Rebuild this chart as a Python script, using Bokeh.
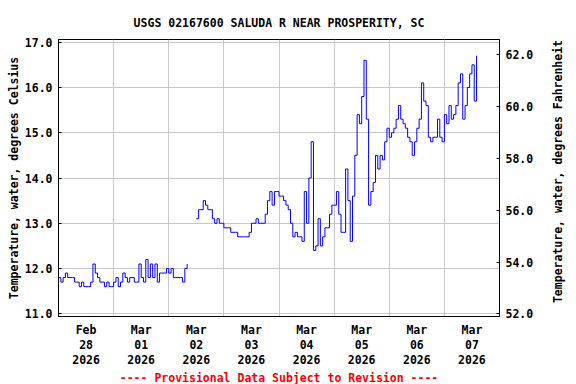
import math
import pandas as pd
from bokeh.plotting import figure
from bokeh.layouts import row
from bokeh.models import Range1d, LinearAxis, FixedTicker, Title, PrintfTickFormatter, Label
from bokeh.embed import file_html
from bokeh.resources import INLINE

TITLE = "USGS 02167600 SALUDA R NEAR PROSPERITY, SC"
LEFT_LABEL = "Temperature, water, degrees Celsius"
RIGHT_LABEL = "Temperature, water, degrees Fahrenheit"
FOOTER = "---- Provisional Data Subject to Revision ----"

origin = pd.Timestamp("2026-02-28 00:00")
day_labels = ["Feb\n28\n2026", "Mar\n01\n2026", "Mar\n02\n2026", "Mar\n03\n2026",
              "Mar\n04\n2026", "Mar\n05\n2026", "Mar\n06\n2026", "Mar\n07\n2026"]
celsius_ticks = [11, 12, 13, 14, 15, 16, 17]
fahrenheit_ticks = [52, 54, 56, 58, 60, 62]

# hourly water temperature (deg C), segment 1
seg1_start = pd.Timestamp("2026-02-28 00:00")
seg1_temp = [11.8, 11.7, 11.8, 11.9, 11.8, 11.8, 11.8, 11.7, 11.7, 11.6,
             11.7, 11.6, 11.6, 11.6, 11.7, 12.1, 11.9, 11.8, 11.7, 11.7,
             11.6, 11.7, 11.6, 11.6, 11.7, 11.8, 11.6, 11.7, 11.9, 11.8,
             11.7, 11.8, 11.8, 11.7, 11.7, 12.1, 11.8, 11.7, 12.2, 11.8,
             12.1, 11.8, 12.1, 11.7, 11.9, 11.9, 11.9, 12.0, 11.9, 12.0,
             11.8, 11.8, 11.8, 11.8, 11.7, 12.0, 12.1]

# hourly water temperature (deg C), segment 2
seg2_start = pd.Timestamp("2026-03-02 12:00")
seg2_temp = [13.1, 13.3, 13.3, 13.5, 13.4, 13.3, 13.3, 13.1, 13.0, 13.1,
             13.0, 13.0, 12.9, 12.9, 12.9, 12.8, 12.8, 12.8, 12.7, 12.7,
             12.7, 12.7, 12.7, 12.8, 13.0, 13.0, 13.1, 13.0, 13.0, 13.0,
             13.2, 13.5, 13.7, 13.4, 13.7, 13.7, 13.6, 13.6, 13.5, 13.4,
             13.3, 13.0, 12.7, 12.8, 12.7, 12.7, 12.6, 13.7, 13.0, 14.0,
             14.8, 12.4, 12.5, 13.1, 12.5, 12.7, 12.9, 12.9, 13.2, 13.4,
             13.4, 13.7, 13.2, 12.8, 12.8, 14.2, 13.5, 12.6, 13.6, 14.5,
             15.4, 15.2, 15.8, 16.6, 15.3, 13.4, 13.7, 13.9, 14.5, 14.2,
             14.5, 14.4, 14.8, 15.1, 14.9, 15.0, 15.1, 15.3, 15.6, 15.3,
             15.2, 15.1, 14.9, 14.8, 14.5, 14.8, 15.1, 15.3, 16.1, 15.7,
             15.6, 14.9, 14.8, 14.9, 14.9, 15.3, 14.9, 14.8, 15.4, 15.2,
             15.6, 15.3, 15.4, 15.6, 16.1, 16.3, 15.3, 15.6, 16.0, 16.3,
             16.5, 15.7, 16.7]


def day_positions(start, n):
    off = (start - origin) / pd.Timedelta(hours=1)
    return [(off + i) / 24.0 for i in range(n)]


FONT = "DejaVu Sans Mono"
FS = "11.5px"

p = figure(frame_width=441, frame_height=277,
           min_border_left=58, min_border_right=51,
           min_border_top=39, min_border_bottom=68,
           x_range=Range1d(0, 8), y_range=Range1d(10.94, 17.06),
           output_backend="svg", toolbar_location=None)
p.outline_line_color = "black"
p.outline_line_width = 1
p.background_fill_color = "white"
p.border_fill_color = "white"

p.title.text = TITLE
p.title.align = "center"
p.title.text_font = FONT
p.title.text_font_size = FS
p.title.text_font_style = "bold"
p.title.text_color = "black"
p.title.standoff = 19

p.step(day_positions(seg1_start, len(seg1_temp)), seg1_temp, mode="after",
       line_color="#0000ff", line_width=1)
p.step(day_positions(seg2_start, len(seg2_temp)), seg2_temp, mode="after",
       line_color="#0000ff", line_width=1)

# grids
p.xgrid.ticker = FixedTicker(ticks=list(range(1, 8)))
p.ygrid.ticker = FixedTicker(ticks=celsius_ticks)
for g in (p.xgrid, p.ygrid):
    g.grid_line_color = "#c8c8c8"
    g.grid_line_width = 1


def style_axis(ax):
    ax.minor_tick_line_color = None
    ax.axis_line_color = "black"
    ax.major_label_text_font = FONT
    ax.major_label_text_font_size = FS
    ax.major_label_text_font_style = "bold"
    ax.major_label_text_color = "black"
    ax.axis_label_text_font = FONT
    ax.axis_label_text_font_size = FS
    ax.axis_label_text_font_style = "bold"
    ax.axis_label_text_color = "black"


# bottom axis
xa = p.xaxis[0]
style_axis(xa)
xa.ticker = FixedTicker(ticks=[i + 0.5 for i in range(len(day_labels))])
xa.major_label_overrides = {i + 0.5: lab for i, lab in enumerate(day_labels)}
xa.major_tick_in = 0
xa.major_tick_out = 0
xa.major_label_standoff = 6
xa.major_label_text_line_height = 1.1

# left axis
ya = p.yaxis[0]
style_axis(ya)
ya.ticker = FixedTicker(ticks=celsius_ticks)
ya.formatter = PrintfTickFormatter(format="%.1f")
ya.major_tick_in = 3
ya.major_tick_out = 0
ya.major_label_standoff = 6
ya.axis_label = LEFT_LABEL
ya.axis_label_standoff = 1

# right axis (Fahrenheit)
p.extra_y_ranges = {"f": Range1d(51.9, 62.58)}
ra = LinearAxis(y_range_name="f", ticker=FixedTicker(ticks=fahrenheit_ticks),
                formatter=PrintfTickFormatter(format="%.1f"))
style_axis(ra)
ra.major_tick_in = 3
ra.major_tick_out = 0
ra.major_label_standoff = 6
p.add_layout(ra, "right")

footer = Title(text=FOOTER, align="center", text_font=FONT, text_font_size=FS,
               text_font_style="bold", text_color="#ff0000", standoff=-4)
p.add_layout(footer, "below")

# narrow strip holding the right-hand axis title (reads bottom to top)
side = figure(width=26, height=384, min_border=0, x_range=Range1d(0, 26),
              y_range=Range1d(0, 384), x_axis_location=None, y_axis_location=None,
              output_backend="svg", toolbar_location=None)
side.outline_line_color = None
side.grid.visible = False
side.background_fill_color = "white"
side.border_fill_color = "white"
side.add_layout(Label(x=7, y=201, text=RIGHT_LABEL, angle=math.pi / 2,
                      text_align="center", text_baseline="middle",
                      text_font=FONT, text_font_size=FS, text_font_style="bold",
                      text_color="black"))

layout = row(p, side)
open("out.html", "w").write(file_html(layout, INLINE))
